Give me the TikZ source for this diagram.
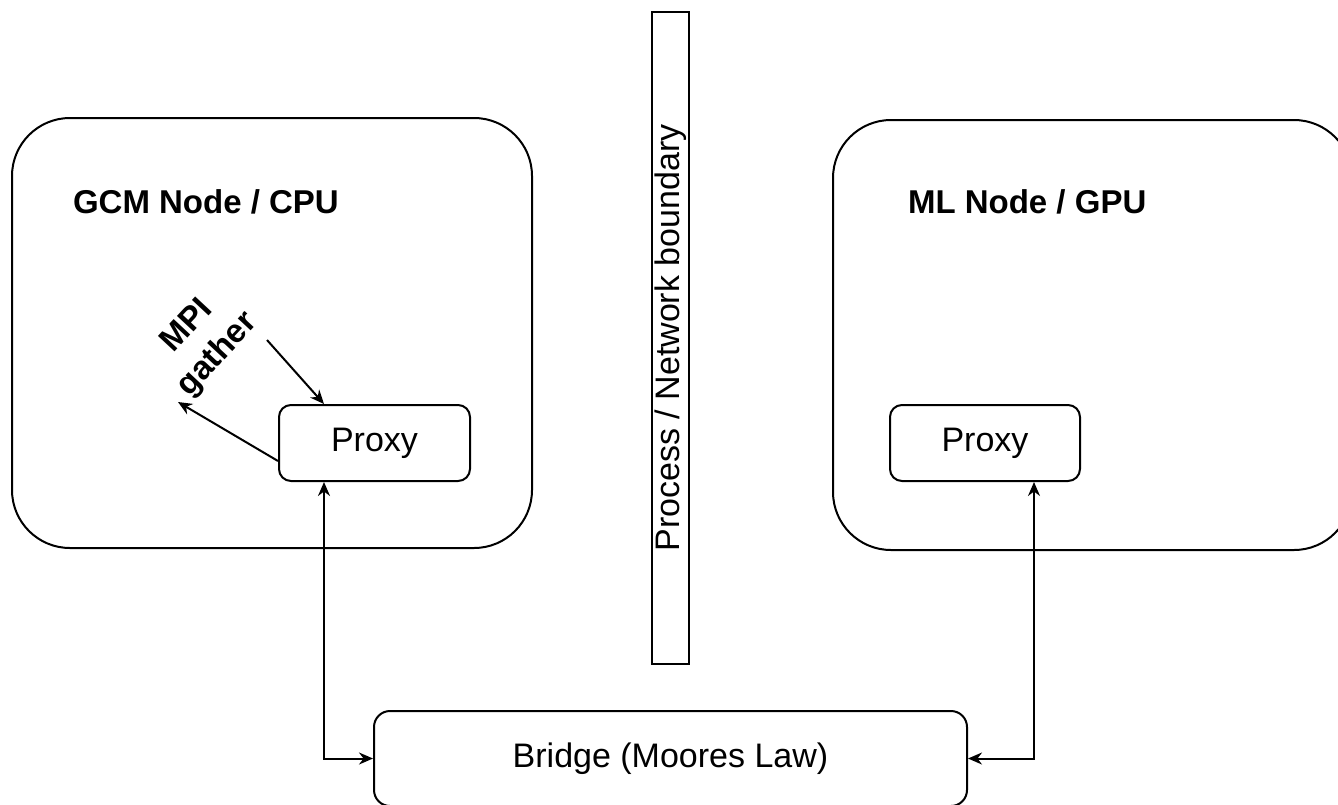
\documentclass[tikz,border=0pt]{standalone}
\usepackage{fontspec}
\setmainfont{Liberation Sans}
\usetikzlibrary{arrows.meta,calc}
\begin{document}
\begin{tikzpicture}[x=0.5pt,y=-0.5pt,
  line width=1pt,
  bigbox/.style={draw, rectangle, rounded corners=29pt, inner sep=0pt},
  smallbox/.style={draw, rectangle, rounded corners=6pt, inner sep=0pt, font=\fontsize{17}{20.4}\selectfont},
  bound/.style={draw, rectangle, inner sep=0pt},
  ttl/.style={font=\bfseries\fontsize{16.5}{20.5}\selectfont, inner sep=0pt},
  lbl/.style={font=\fontsize{17}{20.4}\selectfont, inner sep=0pt},
  arr/.style={-{Stealth[length=7pt,width=6pt]}},
  darr/.style={{Stealth[length=7pt,width=6pt]}-{Stealth[length=7pt,width=6pt]}}
]
\path[use as bounding box] (0,0) rectangle (1338,804);
\clip (0,0) rectangle (1338,804);

% big containers
\node[bigbox, minimum width=260pt, minimum height=215pt] (gcm) at (272,333) {};
\node[bigbox, minimum width=259.5pt, minimum height=215pt] (ml) at (1092.5,335) {};

% titles
\node[ttl, anchor=base west] (gcmt) at (72,213) {GCM Node / CPU};
\node[ttl, anchor=base west] (mlt) at (907,213) {ML Node / GPU};

% boundary
\node[bound, minimum width=18.5pt, minimum height=326pt] (bnd) at (670.5,338) {};
\node[lbl, rotate=90] (bndt) at (670.5,338) {Process / Network boundary};

% proxies
\node[smallbox, minimum width=95.5pt, minimum height=38pt] (pL) at (374.5,443) {Proxy};
\node[smallbox, minimum width=95pt, minimum height=38pt] (pR) at (985,443) {Proxy};

% bridge
\node[smallbox, rounded corners=8pt, minimum width=296.5pt, minimum height=47.5pt] (br) at (670.5,758.5) {Bridge (Moores Law)};

% MPI gather
\node[ttl, align=center, rotate=47] (mpi) at (203,341) {MPI\\gather};
\coordinate (g1) at (267,340);
\coordinate (g2) at (178,402);
\draw[arr] (g1) -- ([xshift=23pt]pL.north west);
\draw[arr] ([yshift=-28.5pt]pL.north west) -- (g2);

% connections to bridge
\draw[darr] ([xshift=23pt]pL.south west) |- (br.west);
\draw[darr] ([xshift=-23.5pt]pR.south east) |- (br.east);
\end{tikzpicture}
\end{document}
